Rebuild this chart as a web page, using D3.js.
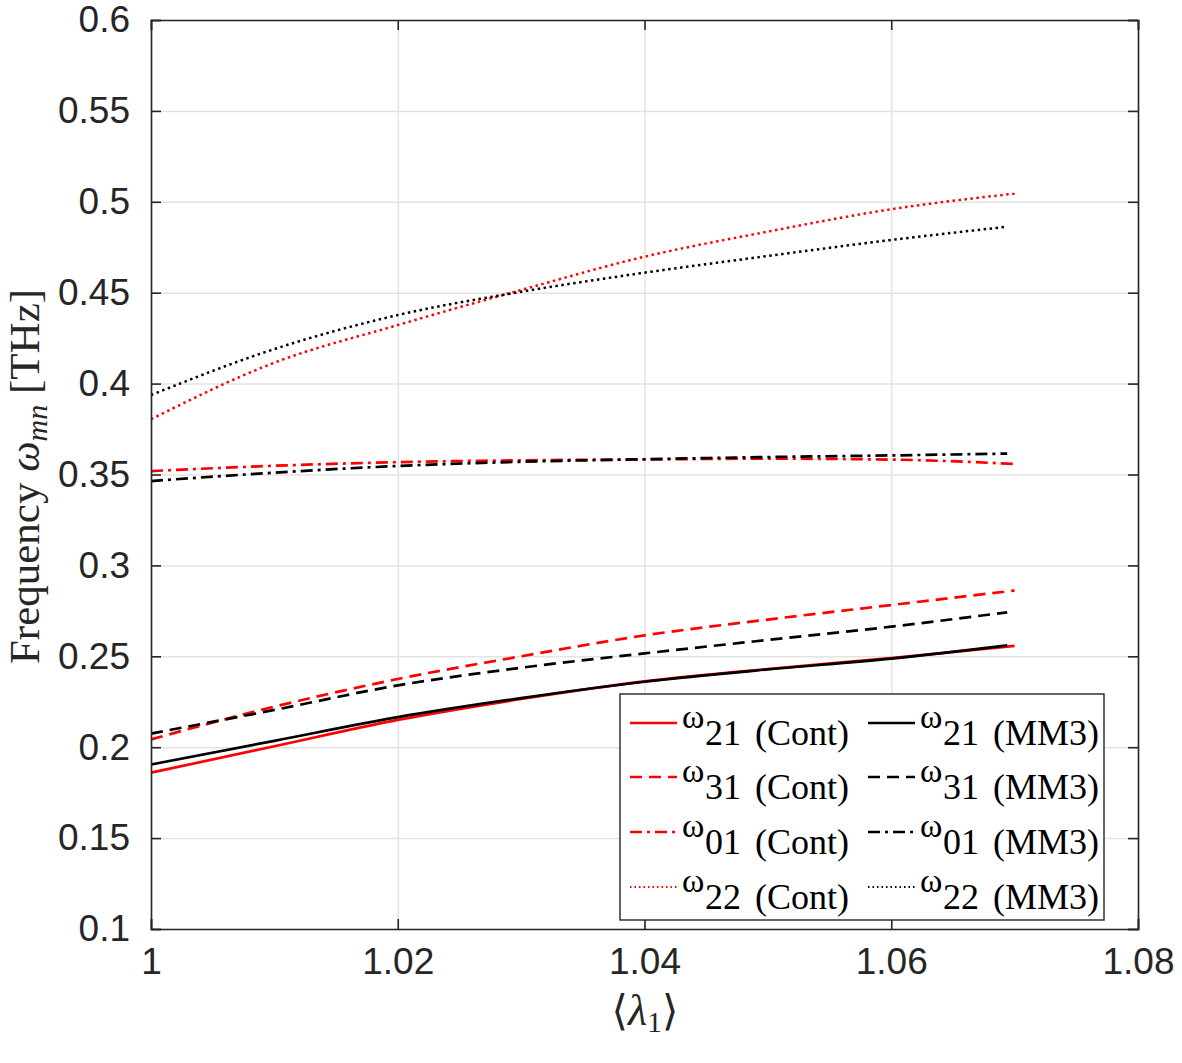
<!DOCTYPE html>
<html>
<head>
<meta charset="utf-8">
<script src="https://cdn.jsdelivr.net/npm/d3@7"></script>
<style>
  body { margin: 0; background: #fff; }
  svg { display: block; }
  .tick text { font-family: "Liberation Sans", Arial, sans-serif; font-size: 37px; fill: #262626; }
</style>
</head>
<body>
<svg id="chart" width="1182" height="1063"></svg>
<script>
// data
var lambdaCont = [1.00, 1.01, 1.02, 1.03, 1.04, 1.05, 1.06, 1.07];
var lambdaMM3  = [1.00, 1.01, 1.02, 1.03, 1.04, 1.05, 1.06, 1.0694];

var w21Cont = [0.1860, 0.2005, 0.2150, 0.2265, 0.2362, 0.2430, 0.2490, 0.2557];
var w21MM3  = [0.1905, 0.2035, 0.2165, 0.2270, 0.2360, 0.2428, 0.2487, 0.2560];
var w31Cont = [0.2043, 0.2223, 0.2375, 0.2500, 0.2615, 0.2702, 0.2782, 0.2862];
var w31MM3  = [0.2075, 0.2205, 0.2340, 0.2437, 0.2516, 0.2590, 0.2663, 0.2742];
var w01Cont = [0.3519, 0.3548, 0.3568, 0.3578, 0.3583, 0.3587, 0.3582, 0.3558];
var w01MM3  = [0.3464, 0.3510, 0.3547, 0.3570, 0.3584, 0.3596, 0.3605, 0.3615];
var w22Cont = [0.3804, 0.4115, 0.4322, 0.4515, 0.4698, 0.4836, 0.4959, 0.5045];
var w22MM3  = [0.3937, 0.4190, 0.4377, 0.4505, 0.4610, 0.4702, 0.4790, 0.4863];

var xTicks = [1, 1.02, 1.04, 1.06, 1.08];
var yTicks = [0.1, 0.15, 0.2, 0.25, 0.3, 0.35, 0.4, 0.45, 0.5, 0.55, 0.6];

var series = [
  {mode: "21", src: "Cont", x: lambdaCont, y: w21Cont, color: "#ff0000", dash: null},
  {mode: "21", src: "MM3",  x: lambdaMM3,  y: w21MM3,  color: "#000000", dash: null},
  {mode: "31", src: "Cont", x: lambdaCont, y: w31Cont, color: "#ff0000", dash: "12,7"},
  {mode: "31", src: "MM3",  x: lambdaMM3,  y: w31MM3,  color: "#000000", dash: "12,7"},
  {mode: "01", src: "Cont", x: lambdaCont, y: w01Cont, color: "#ff0000", dash: "12,5,3,5"},
  {mode: "01", src: "MM3",  x: lambdaMM3,  y: w01MM3,  color: "#000000", dash: "12,5,3,5"},
  {mode: "22", src: "Cont", x: lambdaCont, y: w22Cont, color: "#ff0000", dash: "2.5,3.5"},
  {mode: "22", src: "MM3",  x: lambdaMM3,  y: w22MM3,  color: "#000000", dash: "2.5,3.5"}
];

var svg = d3.select("#chart"),
    margin = {top: 20, right: 44, bottom: 134, left: 151},
    width = +svg.attr("width") - margin.left - margin.right,
    height = +svg.attr("height") - margin.top - margin.bottom,
    g = svg.append("g").attr("transform", "translate(" + margin.left + "," + margin.top + ")");

var x = d3.scaleLinear().domain([1, 1.08]).range([0, width]);
var y = d3.scaleLinear().domain([0.1, 0.6]).range([height, 0]);

// grid
g.append("g")
    .attr("class", "grid")
    .call(d3.axisBottom(x).tickValues(xTicks).tickSize(height).tickFormat(""))
    .call(function(s) { s.select(".domain").remove(); });
g.append("g")
    .attr("class", "grid")
    .call(d3.axisLeft(y).tickValues(yTicks).tickSize(-width).tickFormat(""))
    .call(function(s) { s.select(".domain").remove(); });
g.selectAll(".grid line").attr("stroke", "#e3e3e3").attr("stroke-width", 1.5);

// lines
var line = d3.line()
    .x(function(d) { return x(d[0]); })
    .y(function(d) { return y(d[1]); })
    .curve(d3.curveMonotoneX);

series.forEach(function(s) {
  var pts = s.x.map(function(v, i) { return [v, s.y[i]]; });
  g.append("path")
      .datum(pts)
      .attr("fill", "none")
      .attr("stroke", s.color)
      .attr("stroke-width", s.dash === "2.5,3.5" ? 2.5 : 2.7)
      .attr("stroke-dasharray", s.dash)
      .attr("d", line);
});

// axes with inward ticks on all four sides
var fmt = function(d) { return String(+d.toFixed(2)); };
g.append("g")
    .attr("transform", "translate(0," + height + ")")
    .call(d3.axisBottom(x).tickValues(xTicks).tickSize(-10).tickPadding(19).tickFormat(fmt));
g.append("g")
    .call(d3.axisLeft(y).tickValues(yTicks).tickSize(-10).tickPadding(21).tickFormat(fmt));
g.append("g")
    .call(d3.axisTop(x).tickValues(xTicks).tickSize(-10).tickFormat(""));
g.append("g")
    .attr("transform", "translate(" + width + ",0)")
    .call(d3.axisRight(y).tickValues(yTicks).tickSize(-10).tickFormat(""));
g.selectAll(".domain").attr("stroke", "#262626").attr("stroke-width", 1.6);
g.selectAll(".tick line").filter(function() { return !this.parentNode.parentNode.classList.contains("grid"); })
    .attr("stroke", "#262626").attr("stroke-width", 1.6);
g.selectAll(".tick text").attr("font-family", null).attr("font-size", null);

// axis labels
var ylab = svg.append("text")
    .attr("transform", "translate(39," + (margin.top + height / 2 + 2) + ") rotate(-90)")
    .attr("text-anchor", "middle")
    .attr("font-family", "'Liberation Serif', 'DejaVu Serif', serif")
    .attr("font-size", 43)
    .attr("fill", "#262626");
ylab.append("tspan").text("Frequency ");
ylab.append("tspan").attr("font-style", "italic").text("ω");
ylab.append("tspan").attr("font-style", "italic").attr("font-size", 30).attr("dy", 8).text("mn");
ylab.append("tspan").attr("dy", -8).text(" [THz]");

var xlab = svg.append("text")
    .attr("x", 645)
    .attr("y", 1025)
    .attr("text-anchor", "middle")
    .attr("font-family", "'Liberation Serif', 'DejaVu Serif', serif")
    .attr("font-size", 44)
    .attr("fill", "#262626");
xlab.append("tspan").attr("font-family", "'DejaVu Serif', serif").attr("font-size", 42).text("⟨");
xlab.append("tspan").attr("font-style", "italic").text("λ");
xlab.append("tspan").attr("font-size", 30).attr("dy", 7).text("1");
xlab.append("tspan").attr("dy", -7).attr("font-family", "'DejaVu Serif', serif").attr("font-size", 42).text("⟩");

// legend
var lg = svg.append("g");
lg.append("rect")
    .attr("x", 620).attr("y", 694)
    .attr("width", 484).attr("height", 226)
    .attr("fill", "#fff")
    .attr("stroke", "#262626")
    .attr("stroke-width", 1.4);

var rowY = [723, 777, 832, 887];
var colX = [630, 868];
series.forEach(function(s, i) {
  var r = Math.floor(i / 2), c = i % 2;
  var x0 = colX[c], ly = rowY[r];
  lg.append("line")
      .attr("x1", x0).attr("x2", x0 + 47)
      .attr("y1", ly).attr("y2", ly)
      .attr("stroke", s.color)
      .attr("stroke-width", s.dash === "2.5,3.5" ? 1.8 : 2.4)
      .attr("stroke-dasharray", s.dash === "2.5,3.5" ? "1.5,3" : s.dash);
  var t = lg.append("text")
      .attr("font-family", "'Liberation Serif', 'DejaVu Serif', serif")
      .attr("fill", "#000");
  t.append("tspan").attr("x", x0 + 52).attr("y", ly + 5).attr("font-size", 34).text("ω");
  t.append("tspan").attr("x", x0 + 75).attr("y", ly + 22).attr("font-size", 36).text(s.mode);
  t.append("tspan").attr("x", x0 + 125).attr("y", ly + 22).attr("font-size", 36)
      .text("(" + s.src + ")");
});
</script>
</body>
</html>
